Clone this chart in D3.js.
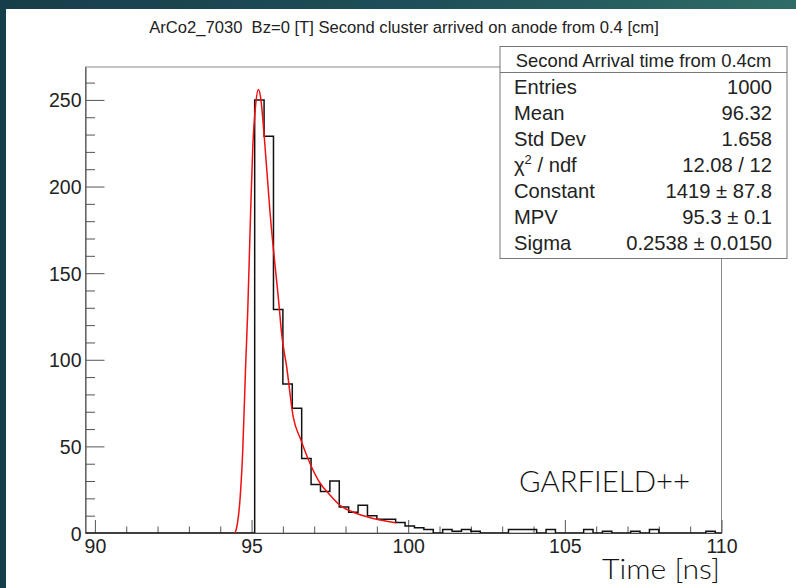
<!DOCTYPE html>
<html>
<head>
<meta charset="utf-8">
<script src="https://cdn.jsdelivr.net/npm/d3@7"></script>
<style>
    html, body { margin: 0; padding: 0; background: #fff; }
    svg { display: block; }
</style>
</head>
<body>
<div id="chart"></div>
<script>

// histogram definition (ROOT TH1: 68 bins of 0.3 ns from 89.7)
const binLow = 89.7,
    binWidth = 0.3;

// bin contents
const binCounts = [
    0, 0, 0, 0, 0, 0, 0, 0, 0, 0,
    0, 0, 0, 0, 0, 0, 0, 0, 250, 229,
    129, 86, 72, 43, 28, 24, 30, 15, 12, 16,
    10, 8, 8, 6, 4, 3, 2, 0, 2, 1,
    2, 1, 0, 0, 0, 2, 2, 2, 0, 2,
    0, 0, 0, 2, 0, 1, 0, 0, 1, 0,
    2, 0, 0, 0, 0, 0, 1, 0
];

// landau fit curve
const fitTime = [94.47, 94.53, 94.63, 94.72, 94.81, 94.88, 94.97, 95.04, 95.13, 95.22,
    95.30, 95.40, 95.59, 95.89, 95.96, 96.12, 96.33, 96.57, 96.87, 97.18,
    97.50, 97.82, 98.25, 98.68, 99.10, 99.61];
const fitValue = [0, 3.6, 19, 48, 96, 129, 185, 223, 247, 256,
    250, 230, 185, 129, 115, 96, 67, 54, 40, 29,
    22, 16, 12, 9.4, 7.5, 5.9];

const xMajor = [90, 95, 100, 105, 110];
const xMinor = [91, 92, 93, 94, 96, 97, 98, 99, 101, 102, 103, 104, 106, 107, 108, 109];
const yMajor = [0, 50, 100, 150, 200, 250];
const yMinor = [10, 20, 30, 40, 60, 70, 80, 90, 110, 120, 130, 140,
    160, 170, 180, 190, 210, 220, 230, 240, 260];

const title = 'ArCo2_7030  Bz=0 [T] Second cluster arrived on anode from 0.4 [cm]';
const statTitle = 'Second Arrival time from 0.4cm';
const statLabels = ['Entries', 'Mean', 'Std Dev', 'chi2', 'Constant', 'MPV', 'Sigma'];
const statValues = ['1000', '96.32', '1.658', '12.08 / 12', '1419 \u00b1 87.8', '95.3 \u00b1 0.1', '0.2538 \u00b1 0.0150'];

const width = 796,
    height = 588;

const rootFont = '"Liberation Sans", Arial, Helvetica, sans-serif',
    slideFont = 'Lato, "DejaVu Sans", sans-serif';

const frame = {left: 85.5, right: 721.5, top: 67, bottom: 533};

const x = d3.scaleLinear()
    .domain([binLow, 110])
    .range([frame.left, frame.right]);

const y = d3.scaleLinear()
    .domain([0, 269])
    .range([frame.bottom, frame.top]);

const svg = d3.select('#chart')
    .append('svg')
    .attr('width', width)
    .attr('height', height);

// slide background
const grad = svg.append('defs')
    .append('linearGradient')
    .attr('id', 'bg')
    .attr('x1', 0).attr('y1', 0)
    .attr('x2', 1).attr('y2', 0);

grad.append('stop').attr('offset', '0%').attr('stop-color', '#163e4a');
grad.append('stop').attr('offset', '55%').attr('stop-color', '#1f5059');
grad.append('stop').attr('offset', '100%').attr('stop-color', '#2f6c67');

svg.append('rect')
    .attr('width', width)
    .attr('height', height)
    .attr('fill', 'url(#bg)');

svg.append('rect')
    .attr('x', 6)
    .attr('y', 9)
    .attr('width', width - 6)
    .attr('height', height - 9)
    .attr('fill', '#fff');

// title
svg.append('text')
    .attr('x', 404)
    .attr('y', 33)
    .attr('text-anchor', 'middle')
    .style('white-space', 'pre')
    .style('font-family', rootFont)
    .style('font-size', '16.6px')
    .style('fill', '#222')
    .text(title);

// frame
svg.append('rect')
    .attr('x', frame.left)
    .attr('y', frame.top)
    .attr('width', frame.right - frame.left)
    .attr('height', frame.bottom - frame.top)
    .attr('fill', 'none')
    .attr('stroke', '#8a8a8a')
    .attr('stroke-width', 1);

function styleAxis (g) {
    g.selectAll('line').attr('stroke', '#555');
    g.selectAll('path').attr('stroke', '#444');
    g.selectAll('text')
        .style('font-family', rootFont)
        .style('font-size', '19.5px')
        .attr('fill', '#222');
}

// y axis
svg.append('g')
    .attr('transform', 'translate(' + frame.left + ',0)')
    .call(d3.axisLeft(y).tickValues(yMajor).tickSizeInner(-19).tickSizeOuter(0).tickPadding(4))
    .call(styleAxis)
    .call(function (g) { g.selectAll('text').attr('dy', '0.36em'); });

svg.append('g')
    .attr('transform', 'translate(' + frame.left + ',0)')
    .call(d3.axisLeft(y).tickValues(yMinor).tickSize(-9.5).tickFormat(''))
    .call(styleAxis)
    .call(function (g) { g.select('.domain').remove(); });

// x axis
svg.append('g')
    .attr('transform', 'translate(0,' + frame.bottom + ')')
    .call(d3.axisBottom(x).tickValues(xMajor).tickSizeInner(-13).tickSizeOuter(0).tickPadding(6))
    .call(styleAxis);

svg.append('g')
    .attr('transform', 'translate(0,' + frame.bottom + ')')
    .call(d3.axisBottom(x).tickValues(xMinor).tickSize(-6.5).tickFormat(''))
    .call(styleAxis)
    .call(function (g) { g.select('.domain').remove(); });

// histogram outline
svg.append('clipPath')
    .attr('id', 'clip')
    .append('rect')
    .attr('x', frame.left)
    .attr('y', frame.top)
    .attr('width', frame.right - frame.left)
    .attr('height', frame.bottom - frame.top);

const steps = [[binLow, 0]];
binCounts.forEach(function (c, i) {
    steps.push([binLow + i * binWidth, c]);
    steps.push([binLow + (i + 1) * binWidth, c]);
});
steps.push([binLow + binCounts.length * binWidth, 0]);

const line = d3.line()
    .x(function (d) { return x(d[0]); })
    .y(function (d) { return y(d[1]); });

svg.append('path')
    .datum(steps)
    .attr('clip-path', 'url(#clip)')
    .attr('d', line)
    .attr('fill', 'none')
    .attr('stroke', '#111')
    .attr('stroke-width', 1.5);

// fit
svg.append('path')
    .datum(d3.zip(fitTime, fitValue))
    .attr('d', line.curve(d3.curveMonotoneX))
    .attr('fill', 'none')
    .attr('stroke', '#f01010')
    .attr('stroke-width', 1.5);

// stat box
const box = {x: 500, y: 46.5, w: 287, h: 212, head: 26};

const stats = svg.append('g');

stats.append('rect')
    .attr('x', box.x)
    .attr('y', box.y)
    .attr('width', box.w)
    .attr('height', box.h)
    .attr('fill', '#fff')
    .attr('stroke', '#777');

stats.append('line')
    .attr('x1', box.x).attr('x2', box.x + box.w)
    .attr('y1', box.y + box.head).attr('y2', box.y + box.head)
    .attr('stroke', '#777');

stats.append('text')
    .attr('x', box.x + box.w / 2)
    .attr('y', box.y + 20.5)
    .attr('text-anchor', 'middle')
    .style('font-family', rootFont)
    .style('font-size', '18.4px')
    .style('fill', '#222')
    .text(statTitle);

statLabels.forEach(function (lab, i) {
    const yy = box.y + box.head + 21 + i * 26;
    const t = stats.append('text')
        .attr('x', box.x + 14)
        .attr('y', yy)
        .style('font-family', rootFont)
        .style('font-size', '20.2px')
        .style('fill', '#222');
    if (lab === 'chi2') {
        t.append('tspan').text('\u03c7');
        t.append('tspan').attr('dy', -8).style('font-size', '13px').text('2');
        t.append('tspan').attr('dy', 8).text(' / ndf');
    } else {
        t.text(lab);
    }
    stats.append('text')
        .attr('x', box.x + box.w - 15)
        .attr('y', yy)
        .attr('text-anchor', 'end')
        .style('font-family', rootFont)
        .style('font-size', '20.2px')
        .style('fill', '#222')
        .text(statValues[i]);
});

// slide annotations
svg.append('text')
    .attr('x', 519)
    .attr('y', 492)
    .attr('textLength', 171)
    .attr('lengthAdjust', 'spacingAndGlyphs')
    .style('font-family', slideFont)
    .style('font-weight', 300)
    .style('font-size', '30px')
    .style('fill', '#111')
    .text('GARFIELD++');

svg.append('text')
    .attr('x', 602)
    .attr('y', 579)
    .attr('textLength', 118)
    .attr('lengthAdjust', 'spacingAndGlyphs')
    .style('font-family', slideFont)
    .style('font-weight', 300)
    .style('font-size', '28px')
    .style('fill', '#111')
    .text('Time [ns]');

</script>
</body>
</html>
